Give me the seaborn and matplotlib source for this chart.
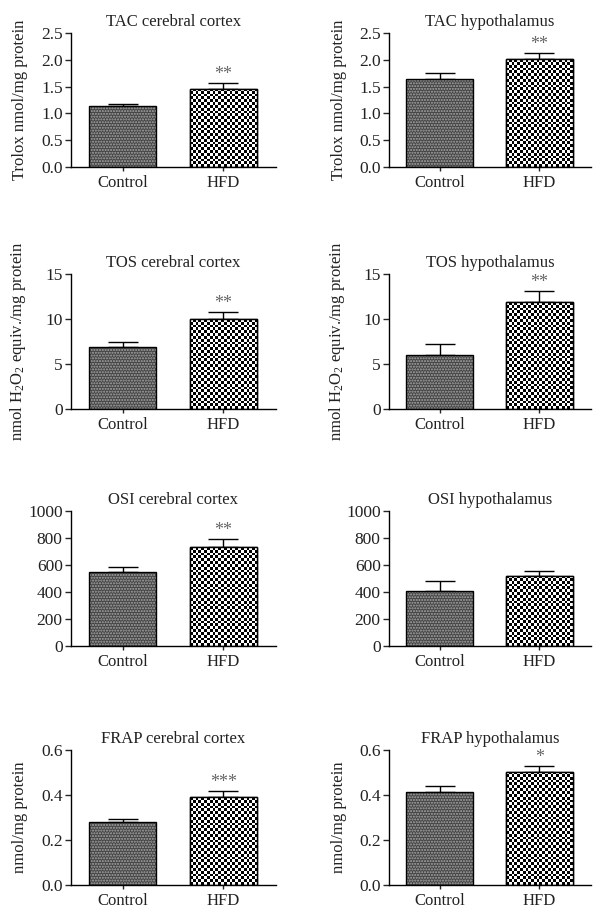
import numpy as np
import pandas as pd
import matplotlib
matplotlib.use("Agg")
import matplotlib.pyplot as plt
from matplotlib.patches import Rectangle
import seaborn as sns

# ---------------- data ----------------
groups = ["Control", "HFD"]

tac_cortex = [1.14, 1.46]
tac_cortex_err = [0.04, 0.10]
tac_hypo = [1.65, 2.01]
tac_hypo_err = [0.10, 0.12]

tos_cortex = [6.85, 10.0]
tos_cortex_err = [0.6, 0.75]
tos_hypo = [6.0, 11.85]
tos_hypo_err = [1.25, 1.3]

osi_cortex = [548, 731]
osi_cortex_err = [37, 59]
osi_hypo = [405, 521]
osi_hypo_err = [76, 37]

frap_cortex = [0.281, 0.390]
frap_cortex_err = [0.013, 0.029]
frap_hypo = [0.412, 0.503]
frap_hypo_err = [0.028, 0.024]

titles = ["TAC cerebral cortex", "TAC hypothalamus",
          "TOS cerebral cortex", "TOS hypothalamus",
          "OSI cerebral cortex", "OSI hypothalamus",
          "FRAP cerebral cortex", "FRAP hypothalamus"]
stars = [["", "**"], ["", "**"],
         ["", "**"], ["", "**"],
         ["", "**"], ["", ""],
         ["", "***"], ["", "*"]]
ylabels = ["Trolox nmol/mg protein", "Trolox nmol/mg protein",
           r"nmol H$_2$O$_2$ equiv./mg protein", r"nmol H$_2$O$_2$ equiv./mg protein",
           "", "",
           "nmol/mg protein", "nmol/mg protein"]
tac_ticks = [0.0, 0.5, 1.0, 1.5, 2.0, 2.5]
tos_ticks = [0, 5, 10, 15]
osi_ticks = [0, 200, 400, 600, 800, 1000]
frap_ticks = [0.0, 0.2, 0.4, 0.6]

values = [tac_cortex, tac_hypo, tos_cortex, tos_hypo,
          osi_cortex, osi_hypo, frap_cortex, frap_hypo]
errors = [tac_cortex_err, tac_hypo_err, tos_cortex_err, tos_hypo_err,
          osi_cortex_err, osi_hypo_err, frap_cortex_err, frap_hypo_err]
ticks = [tac_ticks, tac_ticks, tos_ticks, tos_ticks,
         osi_ticks, osi_ticks, frap_ticks, frap_ticks]
fmts = ["{:.1f}", "{:.1f}", "{:.0f}", "{:.0f}",
        "{:.0f}", "{:.0f}", "{:.1f}", "{:.1f}"]

# ---------------- style ----------------
sns.set_style("ticks")
plt.rcParams["font.family"] = ["Liberation Serif", "DejaVu Serif"]
plt.rcParams["mathtext.fontset"] = "custom"
plt.rcParams["mathtext.rm"] = "Liberation Serif"
plt.rcParams["mathtext.it"] = "Liberation Serif:italic"
plt.rcParams["hatch.linewidth"] = 1.0

TXT = "#222222"
W, H = 602, 917
fig = plt.figure(figsize=(W / 100, H / 100), dpi=100)

cols = [(71, 276), (389, 591)]
rows = [(33, 167), (274, 409), (511, 646), (750, 885)]


def checker(ax, patch, cell_px=2.8):
    x0, y0 = patch.get_x(), patch.get_y()
    x1, y1 = x0 + patch.get_width(), y0 + patch.get_height()
    (px0, py0), (px1, py1) = ax.transData.transform([(x0, y0), (x1, y1)])
    nx = max(1, int(round(abs(px1 - px0) / cell_px)))
    ny = max(1, int(round(abs(py1 - py0) / cell_px)))
    ii, jj = np.indices((ny, nx))
    arr = ((ii + jj) % 2).astype(float)
    im = ax.imshow(arr, extent=(x0, x1, y0, y1), cmap="gray", vmin=0, vmax=1,
                   interpolation="nearest", aspect="auto", origin="lower",
                   zorder=patch.get_zorder() + 0.1)
    im.set_clip_path(patch)


for i in range(8):
    r, c = divmod(i, 2)
    (cx0, cx1), (ry0, ry1) = cols[c], rows[r]
    ax = fig.add_axes([cx0 / W, 1 - ry1 / H, (cx1 - cx0) / W, (ry1 - ry0) / H])
    df = pd.DataFrame({"group": groups, "value": values[i]})
    sns.barplot(data=df, x="group", y="value", hue="group",
                palette=["#4d4d4d", "white"], width=0.67, errorbar=None,
                edgecolor="black", linewidth=1.0, legend=False, ax=ax, zorder=2)
    ax.set_xlim(-0.51, 1.52)
    ax.set_ylim(ticks[i][0], ticks[i][-1])

    bars = ax.patches[:2]
    for j, p in enumerate(bars):
        xc = p.get_x() + p.get_width() / 2
        top = p.get_height()
        if j == 0:
            # fine dotted grey fill
            p.set_facecolor("#444444")
            p.set_edgecolor("#a8a8a8")
            p.set_linewidth(0)
            p.set_hatch("......")
        else:
            checker(ax, p)
        ax.add_patch(Rectangle((p.get_x(), p.get_y()), p.get_width(), p.get_height(),
                               fill=False, edgecolor="black", linewidth=1.0, zorder=4))
        ax.errorbar([xc], [top], yerr=[[0], [errors[i][j]]], fmt="none",
                    ecolor="black", elinewidth=1.0, capsize=11, capthick=1.0, zorder=1)
        if stars[i][j]:
            ax.annotate(stars[i][j], (xc, top + errors[i][j]), xytext=(0, 0),
                        textcoords="offset points", ha="center", va="bottom",
                        fontsize=13, color="#666666", annotation_clip=False)

    sns.despine(ax=ax)
    for s in ("left", "bottom"):
        ax.spines[s].set_linewidth(1.0)
        ax.spines[s].set_color("black")
    ax.set_yticks(ticks[i])
    ax.set_yticklabels([fmts[i].format(t) for t in ticks[i]])
    ax.tick_params(axis="y", direction="out", length=4, width=1, labelsize=12.5,
                   labelcolor=TXT, pad=2)
    ax.tick_params(axis="x", direction="out", length=3, width=1, labelsize=12,
                   labelcolor=TXT, pad=3)
    ax.set_xlabel("")
    ax.set_ylabel(ylabels[i], fontsize=12, color=TXT)
    ax.yaxis.set_label_coords(-0.21, 0.5)
    ax.set_title(titles[i], fontsize=12, color=TXT, pad=5)

fig.savefig("out.png", dpi=100)
